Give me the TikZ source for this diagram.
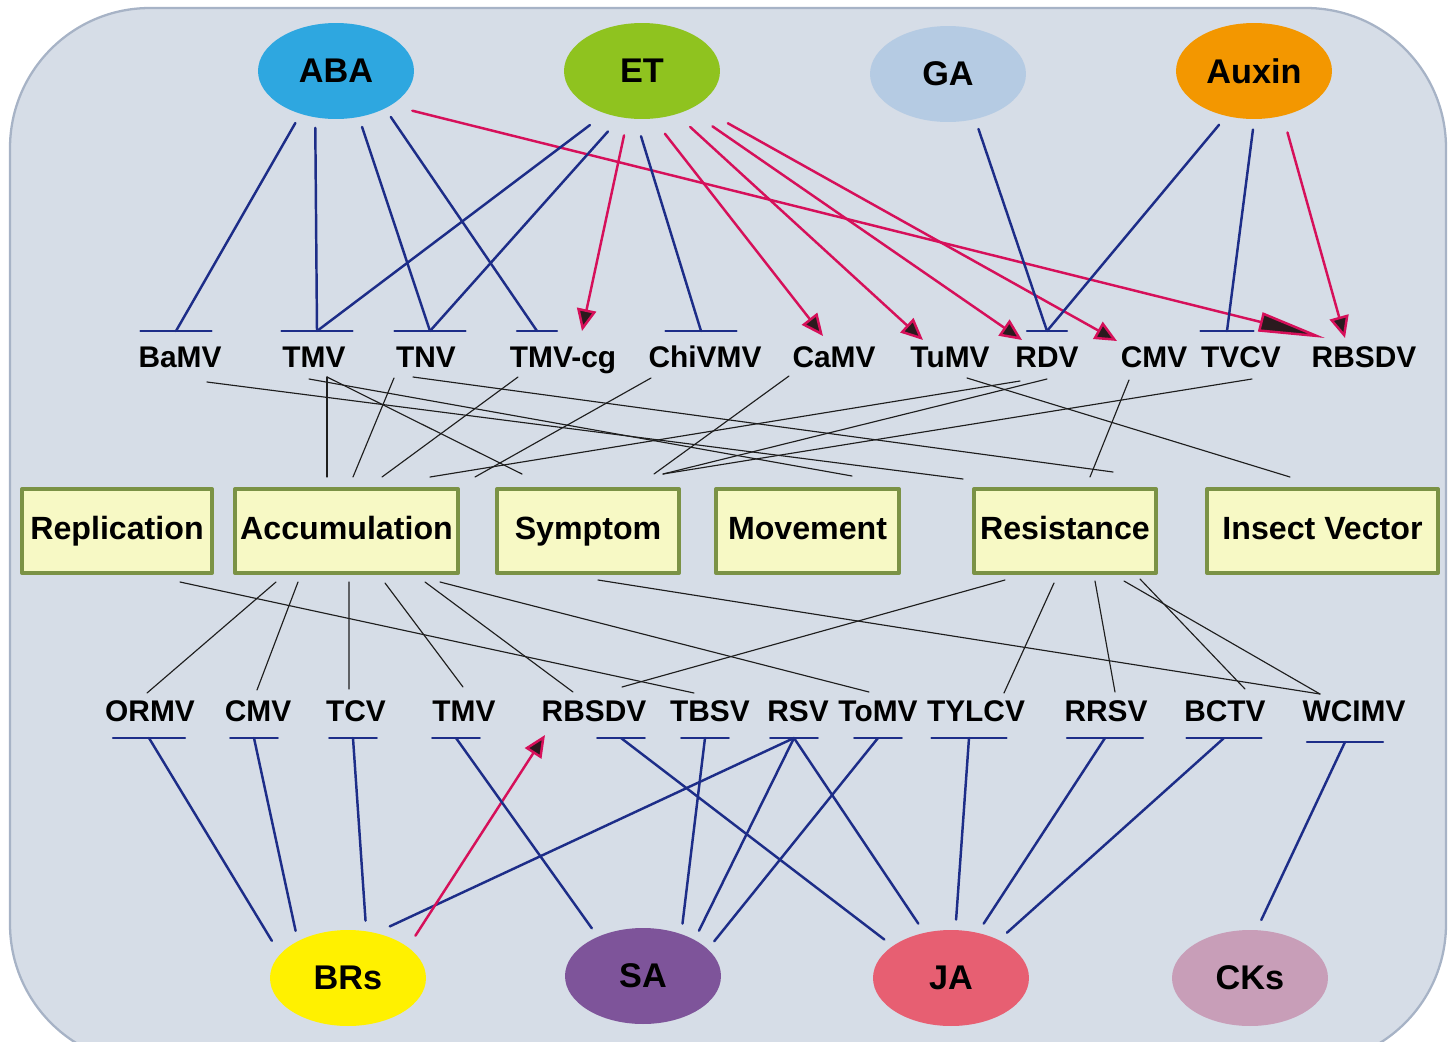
\documentclass[tikz,border=0pt]{standalone}
\usepackage{fontspec}
\setmainfont{Liberation Sans}
\usetikzlibrary{arrows.meta,shapes.geometric}

\definecolor{bgfill}{HTML}{D6DDE7}
\definecolor{frame}{HTML}{A7B3C6}
\definecolor{boxfill}{HTML}{F7F9C5}
\definecolor{boxline}{HTML}{7B9245}
\definecolor{cABA}{HTML}{2EA7E0}
\definecolor{cET}{HTML}{8FC31F}
\definecolor{cGA}{HTML}{B5CBE3}
\definecolor{cAux}{HTML}{F39700}
\definecolor{cBR}{HTML}{FFF100}
\definecolor{cSA}{HTML}{7E549A}
\definecolor{cJA}{HTML}{E75F72}
\definecolor{cCK}{HTML}{C89EB8}
\definecolor{inhblue}{HTML}{1D2D88}
\definecolor{actred}{HTML}{D6105A}
\definecolor{tipfill}{HTML}{2A1A1E}
\definecolor{linkgray}{HTML}{1E1E1E}

\begin{document}
\begin{tikzpicture}[x=0.02cm, y=-0.02cm, line cap=round, line join=round,
    hormone/.style={ellipse, minimum width=3.12cm, minimum height=1.92cm,
      inner sep=0pt, outer sep=6pt, font=\fontsize{19.5}{22}\selectfont\bfseries},
    virus/.style={inner sep=0pt, text height=12.2pt, text depth=0pt,
      font=\fontsize{17}{20}\selectfont\bfseries},
    effect/.style={draw=boxline, fill=boxfill, line width=2.3pt, minimum height=1.68cm,
      inner sep=0pt, text height=13pt, text depth=3.5pt,
      font=\fontsize{18.3}{22}\selectfont\bfseries},
    tbar/.style={inner sep=0pt, outer sep=0pt, minimum height=0pt, minimum width=1.42cm},
    link/.style={draw=linkgray, line width=0.65pt},
    inh/.style={draw=inhblue, line width=1.4pt},
    act/.style={draw=actred, line width=1.4pt,
      -{Triangle[length=12.5pt, width=11pt, fill=tipfill]}}]
  \useasboundingbox (0,0) rectangle (1455,1042);
  \clip (0,0) rectangle (1455,1042);
  \draw[draw=frame, fill=bgfill, line width=1.3pt, rounded corners=2.8cm]
    (10,8) rectangle (1446,1064);

  % hormones
  \node[hormone, fill=cABA] (aba) at (336,71) {ABA};
  \node[hormone, fill=cET] (et) at (642,71) {ET};
  \node[hormone, fill=cGA] (ga) at (948,74) {GA};
  \node[hormone, fill=cAux] (auxin) at (1254,71) {Auxin};
  \node[hormone, fill=cBR] (brs) at (348,978) {BRs};
  \node[hormone, fill=cSA] (sa) at (643,976) {SA};
  \node[hormone, fill=cJA] (ja) at (951,978) {JA};
  \node[hormone, fill=cCK] (cks) at (1250,978) {CKs};

  % viruses, upper row
  \node[virus] (uBaMV) at (180,357) {BaMV};
  \node[virus] (uTMV) at (314,357) {TMV};
  \node[virus] (uTNV) at (426,357) {TNV};
  \node[virus] (uTMVcg) at (563,357) {TMV-cg};
  \node[virus] (uChiVMV) at (705,357) {ChiVMV};
  \node[virus] (uCaMV) at (834,357) {CaMV};
  \node[virus] (uTuMV) at (950,357) {TuMV};
  \node[virus] (uRDV) at (1047,357) {RDV};
  \node[virus] (uCMV) at (1154,357) {CMV};
  \node[virus] (uTVCV) at (1241,357) {TVCV};
  \node[virus] (uRBSDV) at (1364,357) {RBSDV};
  \node[tbar] (ubBaMV) at (176,331) {};
  \node[tbar] (ubTMV) at (317,331) {};
  \node[tbar] (ubTNV) at (430,331) {};
  \node[tbar, minimum width=0.8cm] (ubTMVcg) at (537,331) {};
  \node[tbar] (ubChiVMV) at (701,331) {};
  \node[tbar, minimum width=0.8cm] (ubRDV) at (1047,331) {};
  \node[tbar, minimum width=1.06cm] (ubTVCV) at (1227,331) {};

  % viruses, lower row
  \node[virus] (lORMV) at (150,711) {ORMV};
  \node[virus] (lCMV) at (258,711) {CMV};
  \node[virus] (lTCV) at (356,711) {TCV};
  \node[virus] (lTMV) at (464,711) {TMV};
  \node[virus] (lRBSDV) at (594,711) {RBSDV};
  \node[virus] (lTBSV) at (710,711) {TBSV};
  \node[virus] (lRSV) at (798,711) {RSV};
  \node[virus] (lToMV) at (878,711) {ToMV};
  \node[virus] (lTYLCV) at (976,711) {TYLCV};
  \node[virus] (lRRSV) at (1106,711) {RRSV};
  \node[virus] (lBCTV) at (1225,711) {BCTV};
  \node[virus] (lWCIMV) at (1354,711) {WCIMV};
  \node[tbar, minimum width=1.44cm] (lbORMV) at (149,738) {};
  \node[tbar, minimum width=0.95cm] (lbCMV) at (254,738) {};
  \node[tbar, minimum width=0.95cm] (lbTCV) at (353,738) {};
  \node[tbar, minimum width=0.95cm] (lbTMV) at (456,738) {};
  \node[tbar, minimum width=0.95cm] (lbRBSDV) at (621,738) {};
  \node[tbar, minimum width=0.95cm] (lbTBSV) at (705,738) {};
  \node[tbar, minimum width=0.95cm] (lbRSV) at (794,738) {};
  \node[tbar, minimum width=0.95cm] (lbToMV) at (878,738) {};
  \node[tbar, minimum width=1.5cm] (lbTYLCV) at (969,738) {};
  \node[tbar, minimum width=1.52cm] (lbRRSV) at (1105,738) {};
  \node[tbar, minimum width=1.5cm] (lbBCTV) at (1224,738) {};
  \node[tbar, minimum width=1.52cm] (lbWCIMV) at (1345,742) {};

  % effects
  \node[effect, minimum width=3.8cm] (rep) at (117,531) {Replication};
  \node[effect, minimum width=4.46cm] (acc) at (346.5,531) {Accumulation};
  \node[effect, minimum width=3.64cm] (sym) at (588,531) {Symptom};
  \node[effect, minimum width=3.66cm] (mov) at (807.5,531) {Movement};
  \node[effect, minimum width=3.64cm] (res) at (1065,531) {Resistance};
  \node[effect, minimum width=4.62cm] (ins) at (1322.5,531) {Insect Vector};

  % virus to effect
  \draw[link] ([shift={(27,25)}]uBaMV.center) -- ([shift={(-102,-52)}]res.center);
  \draw[link] ([shift={(13,20)}]uTMV.center) -- ([shift={(-19.5,-54)}]acc.center);
  \draw[link] ([shift={(13,20)}]uTMV.center) -- ([shift={(-66,-57)}]sym.center);
  \draw[link] ([shift={(-5,22)}]uTMV.center) -- ([shift={(44.5,-55)}]mov.center);
  \draw[link] ([shift={(-32,21)}]uTNV.center) -- ([shift={(6.5,-54)}]acc.center);
  \draw[link] ([shift={(-13,20)}]uTNV.center) -- ([shift={(48,-59)}]res.center);
  \draw[link] ([shift={(-45,20)}]uTMVcg.center) -- ([shift={(35.5,-54)}]acc.center);
  \draw[link] ([shift={(-54,21)}]uChiVMV.center) -- ([shift={(128.5,-54)}]acc.center);
  \draw[link] ([shift={(-45,19)}]uCaMV.center) -- ([shift={(66,-57)}]sym.center);
  \draw[link] ([shift={(17,21)}]uTuMV.center) -- ([shift={(-32.5,-54)}]ins.center);
  \draw[link] ([shift={(-27,24)}]uRDV.center) -- ([shift={(83.5,-54)}]acc.center);
  \draw[link] ([shift={(0,22)}]uRDV.center) -- ([shift={(75,-57)}]sym.center);
  \draw[link] ([shift={(-25,23)}]uCMV.center) -- ([shift={(25,-54)}]res.center);
  \draw[link] ([shift={(11,22)}]uTVCV.center) -- ([shift={(75,-57)}]sym.center);

  % effect to virus
  \draw[link] ([shift={(63,51)}]rep.center) -- ([shift={(-16,-18)}]lTBSV.center);
  \draw[link] ([shift={(-70.5,51)}]acc.center) -- ([shift={(-3,-18)}]lORMV.center);
  \draw[link] ([shift={(-48.5,51)}]acc.center) -- ([shift={(-1,-21)}]lCMV.center);
  \draw[link] ([shift={(2.5,51)}]acc.center) -- ([shift={(-7,-22)}]lTCV.center);
  \draw[link] ([shift={(38.5,52)}]acc.center) -- ([shift={(-1,-24)}]lTMV.center);
  \draw[link] ([shift={(78.5,51)}]acc.center) -- ([shift={(-21,-19)}]lRBSDV.center);
  \draw[link] ([shift={(93.5,51)}]acc.center) -- ([shift={(-9,-19)}]lToMV.center);
  \draw[link] ([shift={(10,49)}]sym.center) -- ([shift={(-34,-17)}]lWCIMV.center);
  \draw[link] ([shift={(-60,49)}]res.center) -- ([shift={(28,-24)}]lRBSDV.center);
  \draw[link] ([shift={(-11,52)}]res.center) -- ([shift={(28,-18)}]lTYLCV.center);
  \draw[link] ([shift={(30,50)}]res.center) -- ([shift={(9,-19)}]lRRSV.center);
  \draw[link] ([shift={(59,50)}]res.center) -- ([shift={(-34,-17)}]lWCIMV.center);
  \draw[link] ([shift={(75,48)}]res.center) -- ([shift={(20,-22)}]lBCTV.center);

  % T-bars
  \foreach \b in {ubBaMV, ubTMV, ubTNV, ubTMVcg, ubChiVMV, ubRDV, ubTVCV,
      lbORMV, lbCMV, lbTCV, lbTMV, lbRBSDV, lbTBSV, lbRSV, lbToMV,
      lbTYLCV, lbRRSV, lbBCTV, lbWCIMV}
    \draw[inh] (\b.west) -- (\b.east);

  % upper hormones
  \draw[inh] (aba.232) -- (ubBaMV.center);
  \draw[inh] (aba.250) -- (ubTMV.center);
  \draw[inh] (aba.295) -- (ubTNV.center);
  \draw[inh] (aba.320) -- (ubTMVcg.center);
  \draw[act, -{Triangle[length=38pt, width=11pt, fill=tipfill]}, shorten <=5pt]
    (aba.331) -- ([shift={(-39,-19)}]uRBSDV.center);
  \draw[inh, shorten <=4pt] (et.227) -- (ubTMV.center);
  \draw[inh, shorten <=4pt] (et.242) -- (ubTNV.center);
  \draw[act, shorten <=4pt] (et.254) -- ([shift={(19,-26)}]uTMVcg.center);
  \draw[inh, shorten <=4pt] (et.267) -- (ubChiVMV.center);
  \draw[act, shorten <=4pt] (et.288) -- ([shift={(-11,-21)}]uCaMV.center);
  \draw[act, shorten <=4pt] (et.310) -- ([shift={(-27,-17)}]uTuMV.center);
  \draw[act, shorten <=10pt] (et.321) -- ([shift={(-25,-17)}]uRDV.center);
  \draw[act, shorten <=14pt] (et.328) -- ([shift={(-37,-16)}]uCMV.center);
  \draw[inh] (ga.299) -- (ubRDV.center);
  \draw[inh] (auxin.237) -- (ubRDV.center);
  \draw[inh] (auxin.269) -- (ubTVCV.center);
  \draw[act, shorten <=4pt] (auxin.300) -- ([shift={(-19,-19)}]uRBSDV.center);

  % lower hormones
  \draw[inh, shorten <=3pt] (brs.156) -- (lbORMV.center);
  \draw[inh] (brs.138) -- (lbCMV.center);
  \draw[inh] (brs.73) -- (lbTCV.center);
  \draw[inh] (brs.51) -- (lbRSV.center);
  \draw[act, shorten <=2pt] (brs.31) -- ([shift={(-49,24)}]lRBSDV.center);
  \draw[inh] (sa.137) -- (lbTMV.center);
  \draw[inh] (sa.53) -- (lbTBSV.center);
  \draw[inh] (sa.39) -- (lbRSV.center);
  \draw[inh] (sa.26) -- (lbToMV.center);
  \draw[inh] (ja.150) -- (lbRBSDV.center);
  \draw[inh] (ja.121) -- (lbRSV.center);
  \draw[inh] (ja.85) -- (lbTYLCV.center);
  \draw[inh] (ja.59) -- (lbRRSV.center);
  \draw[inh] (ja.39) -- (lbBCTV.center);
  \draw[inh] (cks.79) -- (lbWCIMV.center);
\end{tikzpicture}
\end{document}
